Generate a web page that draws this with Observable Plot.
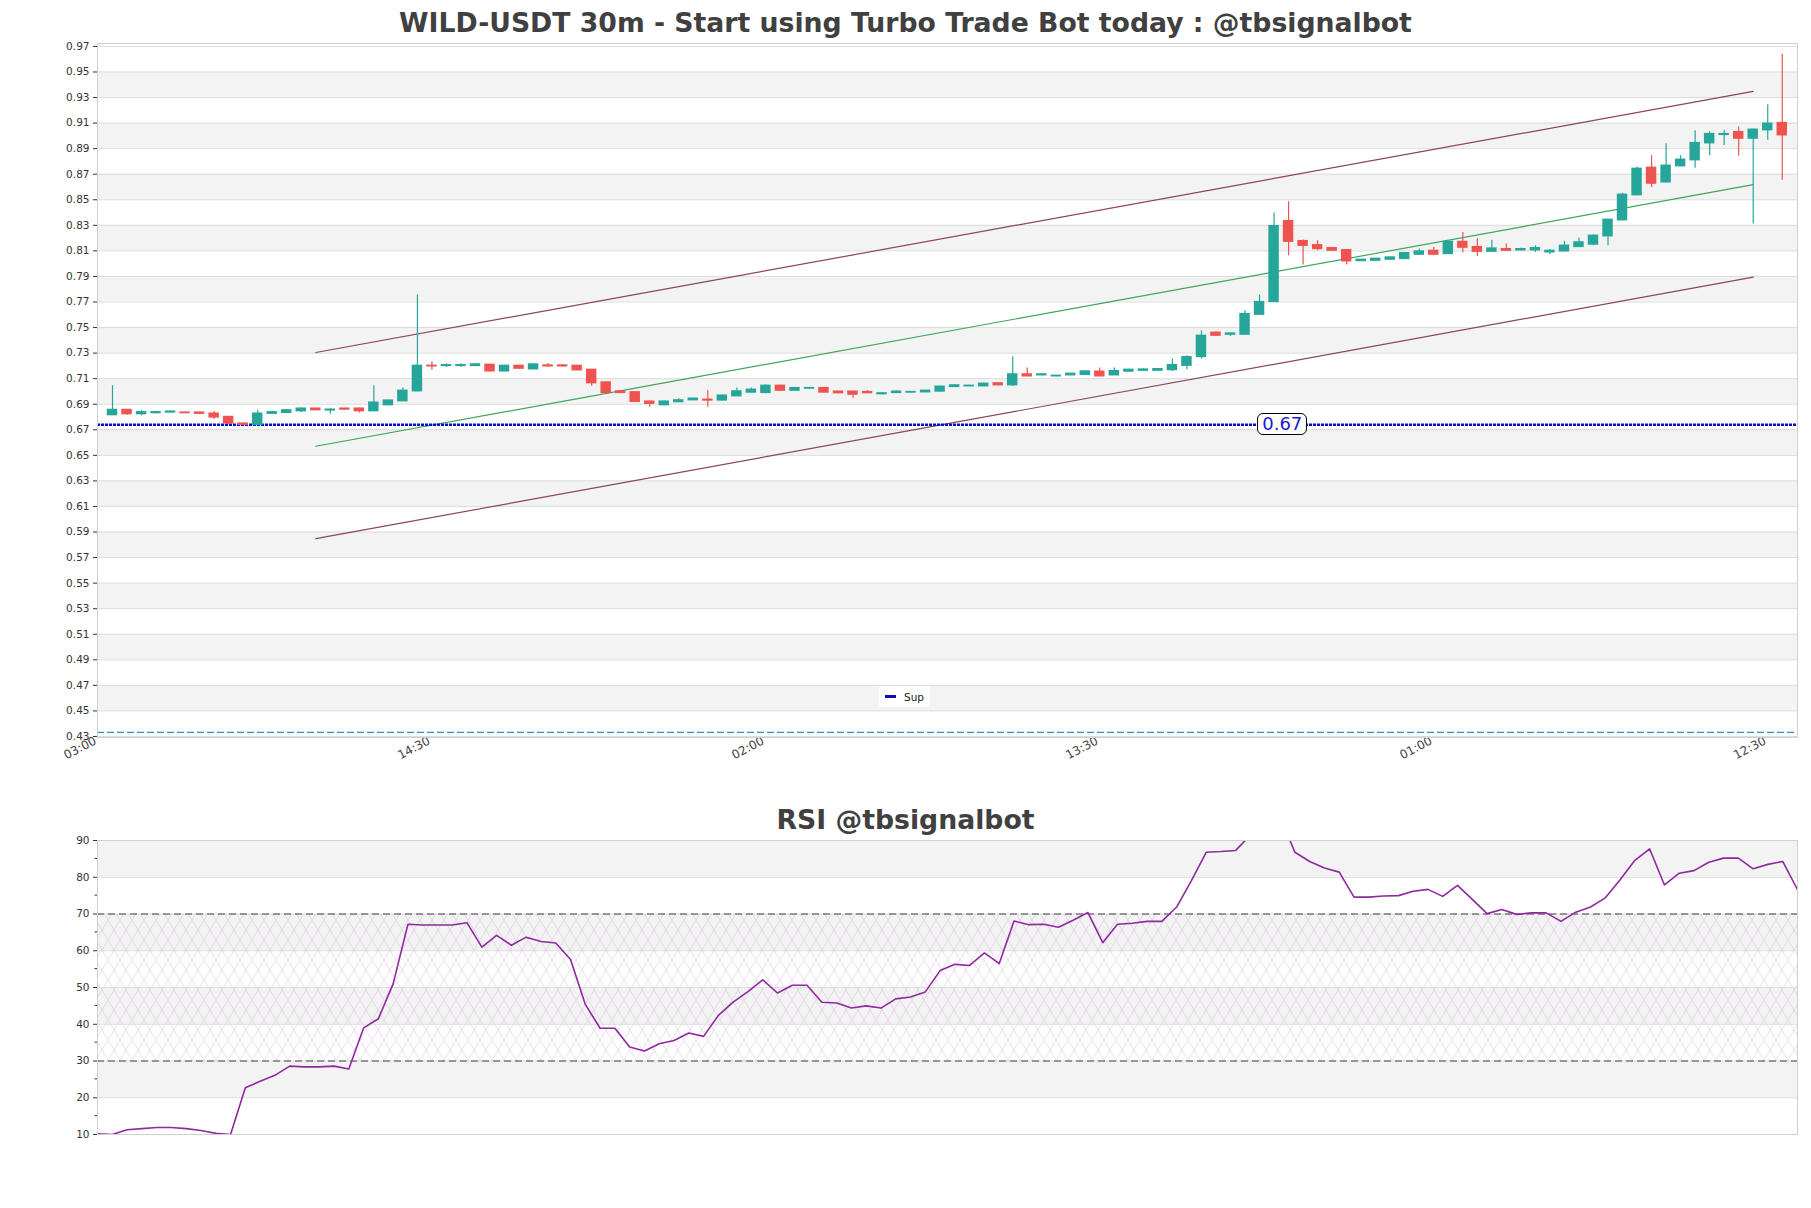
<!DOCTYPE html>
<html><head><meta charset="utf-8">
<script src="https://cdn.jsdelivr.net/npm/d3@7"></script>
<script src="https://cdn.jsdelivr.net/npm/@observablehq/plot@0.6"></script>
<style>
body{margin:0;background:#fff;font-family:"DejaVu Sans",sans-serif;}
#wrap{position:relative;width:1811px;height:1208px;overflow:hidden;background:#fff;}
.title{position:absolute;left:0;width:1811px;text-align:center;font-weight:bold;color:#404040;font-size:26.7px;line-height:30px;font-family:"DejaVu Sans",sans-serif;}
.abs{position:absolute;left:0;}
#legend{position:absolute;background:#fff;border-radius:2px;font-size:10.5px;color:#222;display:flex;align-items:center;padding:3px 6px;gap:8px;height:15px;}
#legend .sw{display:inline-block;width:11px;height:3px;background:#1010a8;}
#supLabel{position:absolute;background:#fff;border:1.2px solid #000;border-radius:6px;color:#1a1acc;font-size:18px;line-height:18px;padding:1px 4px;transform:translate(-50%,-50%);}
</style></head><body><div id="wrap"></div>
<script>
// ---- data ----
const openP=[.6814,.6856,.6822,.6830,.6835,.6835,.6835,.6827,.6801,.6749,
.6738,.6825,.6832,.6845,.6866,.6851,.6866,.6866,.6845,.6892,
.6923,.7001,.7201,.7199,.7199,.7199,.7209,.7157,.7201,.7173,
.7204,.7204,.7201,.7170,.7071,.7001,.6994,.6921,.6892,.6916,
.6931,.6936,.6929,.6962,.6991,.6988,.7045,.7006,.7022,.7027,
.6999,.6999,.6996,.6978,.6988,.6991,.6993,.6999,.7035,.7040,
.7040,.7064,.7048,.7134,.7126,.7118,.7126,.7129,.7155,.7126,
.7155,.7162,.7162,.7167,.7201,.7269,.7460,.7444,.7444,.7600,
.7700,.8333,.8177,.8145,.8122,.8106,.8020,.8023,.8031,.8036,
.8070,.8101,.8075,.8171,.8130,.8093,.8114,.8104,.8104,.8088,
.8096,.8130,.8149,.8214,.8339,.8535,.8751,.8636,.8762,.8809,
.8942,.9007,.9030,.8978,.9044,.9101];
const closeP=[.6856,.6822,.6838,.6838,.6843,.6830,.6825,.6796,.6749,.6738,
.6827,.6838,.6853,.6866,.6853,.6858,.6858,.6845,.6913,.6929,
.7006,.7201,.7196,.7206,.7206,.7212,.7157,.7201,.7178,.7212,
.7196,.7196,.7165,.7064,.6988,.6988,.6918,.6903,.6921,.6931,
.6944,.6929,.6968,.7001,.7014,.7045,.7006,.7027,.7027,.6991,
.6986,.6975,.6986,.6986,.6999,.6996,.7006,.7038,.7048,.7045,
.7061,.7048,.7134,.7118,.7134,.7123,.7139,.7157,.7118,.7160,
.7170,.7172,.7175,.7207,.7269,.7436,.7436,.7454,.7606,.7700,
.8294,.8171,.8140,.8114,.8101,.8018,.8031,.8039,.8049,.8083,
.8096,.8070,.8171,.8125,.8093,.8119,.8101,.8114,.8122,.8101,
.8141,.8167,.8219,.8344,.8540,.8743,.8626,.8767,.8814,.8944,
.9015,.9015,.8978,.9049,.9096,.9004];
const highP=[.7045,.6858,.6848,.6845,.6846,.6837,.6837,.6843,.6803,.6751,
.6851,.6846,.6858,.6870,.6868,.6864,.6868,.6870,.7045,.6932,
.7027,.7755,.7232,.7216,.7216,.7216,.7211,.7206,.7203,.7216,
.7219,.7209,.7203,.7172,.7073,.7003,.6996,.6923,.6926,.6942,
.6947,.7006,.6970,.7027,.7027,.7050,.7048,.7030,.7030,.7030,
.7001,.7001,.7006,.6988,.7004,.6999,.7009,.7040,.7053,.7048,
.7064,.7066,.7269,.7183,.7137,.7126,.7142,.7160,.7183,.7183,
.7173,.7175,.7178,.7254,.7280,.7475,.7468,.7456,.7632,.7755,
.8396,.8484,.8185,.8179,.8124,.8108,.8033,.8041,.8052,.8086,
.8114,.8127,.8177,.8244,.8196,.8183,.8153,.8120,.8140,.8110,
.8175,.8200,.8227,.8349,.8552,.8756,.8845,.8939,.8845,.9041,
.9033,.9044,.9070,.9054,.9244,.9636];
const lowP=[.6812,.6814,.6809,.6826,.6833,.6828,.6823,.6780,.6742,.6735,
.6735,.6822,.6830,.6836,.6851,.6822,.6855,.6832,.6843,.6890,
.6921,.6996,.7165,.7188,.7190,.7196,.7155,.7155,.7173,.7170,
.7191,.7193,.7162,.7040,.6986,.6986,.6916,.6877,.6890,.6914,
.6929,.6877,.6926,.6960,.6988,.6983,.7001,.7004,.7020,.6986,
.6983,.6947,.6983,.6975,.6986,.6988,.6991,.6996,.7032,.7038,
.7037,.7045,.7038,.7116,.7123,.7116,.7124,.7126,.7116,.7124,
.7152,.7160,.7158,.7155,.7170,.7253,.7434,.7431,.7442,.7598,
.7698,.8062,.7989,.8101,.8099,.7989,.8018,.8020,.8028,.8033,
.8067,.8062,.8072,.8083,.8057,.8090,.8098,.8101,.8088,.8070,
.8093,.8127,.8140,.8141,.8336,.8532,.8595,.8633,.8759,.8746,
.8845,.8924,.8840,.8310,.8965,.8652];
const rsiValues=[10.2,10.0,11.3,11.6,11.9,11.9,11.6,11.1,10.3,10.0,
22.7,24.5,26.1,28.6,28.4,28.4,28.6,27.8,39.0,41.5,
51.0,67.2,67.0,67.0,67.0,67.6,61.0,64.2,61.5,63.7,
62.5,62.1,57.6,45.4,38.9,38.9,33.8,32.7,34.7,35.6,
37.6,36.7,42.4,46.0,48.9,52.1,48.5,50.6,50.6,46.0,
45.8,44.4,45.0,44.4,46.9,47.4,48.8,54.6,56.3,56.0,
59.4,56.5,68.1,67.1,67.2,66.4,68.3,70.4,62.2,67.2,
67.5,68.0,68.0,71.9,79.1,86.8,87.0,87.3,91.5,95.0,
96.5,86.8,84.3,82.5,81.4,74.6,74.6,74.9,75.0,76.2,
76.7,74.8,77.8,74.0,70.1,71.2,69.9,70.3,70.3,68.0,
70.5,71.9,74.4,79.3,84.6,87.7,77.9,81.1,81.8,84.1,
85.2,85.2,82.3,83.5,84.3,76.6];
const xTickPos=[-1,22,45,68,91,114];
const xTickLabels=["03:00","14:30","02:00","13:30","01:00","12:30"];
const channelX=[14,113];
const channelUpper=[0.7305,0.9348];
const channelMid=[0.6571,0.8618];
const channelLower=[0.5848,0.7895];
const supLevel=0.674;
const supText="0.67";
const supLabelIndex=80.6;
const baseLevel=0.4332;
const mainTitle="WILD-USDT 30m - Start using Turbo Trade Bot today : @tbsignalbot";
const rsiTitle="RSI @tbsignalbot";
const legendLabel="Sup";
const yTicks=d3.range(0,28).map(k=>+(0.43+0.02*k).toFixed(2));
const rsiTicks=[10,20,30,40,50,60,70,80,90];
const rsiMinor=[15,25,35,45,55,65,75,85];

// ---- build ----
const wrap=document.getElementById("wrap");
const candles=openP.map((o,i)=>({i,open:o,close:closeP[i],high:highP[i],low:lowP[i],up:closeP[i]>=o}));
const GREEN="#26a69a", RED="#ef5350";
const bands=d3.range(0,yTicks.length-1).filter(k=>k%2===1).map(k=>({y1:yTicks[k],y2:yTicks[k+1]}));
const chX=(arr)=>channelX.map((x,j)=>({x,y:arr[j]}));
const fontStyle={fontFamily:"DejaVu Sans, sans-serif",fontSize:"10.5px",color:"#333",background:"transparent",overflow:"visible"};

const main=Plot.plot({
  width:1811,height:780,marginTop:43,marginBottom:43,marginLeft:97,marginRight:14,
  style:fontStyle,
  x:{domain:[-1.033,116.05],ticks:xTickPos,tickFormat:d=>xTickLabels[xTickPos.indexOf(d)],tickRotate:-28,tickSize:0,tickPadding:1,label:null},
  y:{domain:[0.4292,0.9723],ticks:yTicks,tickFormat:d3.format(".2f"),tickSize:4,tickPadding:4,label:null},
  marks:[
    Plot.rect(bands,{y1:"y1",y2:"y2",fill:"#f3f3f3"}),
    Plot.ruleY(yTicks,{stroke:"#dcdcdc",strokeWidth:1}),
    Plot.ruleY([baseLevel],{stroke:"#2a8fd0",strokeWidth:1.3,strokeDasharray:"7,3"}),
    Plot.line(chX(channelUpper),{x:"x",y:"y",stroke:"#8b4656",strokeWidth:1.2}),
    Plot.line(chX(channelLower),{x:"x",y:"y",stroke:"#8b4656",strokeWidth:1.2}),
    Plot.line(chX(channelMid),{x:"x",y:"y",stroke:"#3fa55b",strokeWidth:1.2}),
    Plot.ruleY([supLevel],{stroke:"#0010c8",strokeWidth:2.4,strokeDasharray:"3,1"}),
    Plot.ruleX(candles,{x:"i",y1:"low",y2:"high",stroke:d=>d.up?GREEN:RED,strokeWidth:1.2}),
    Plot.rect(candles,{x1:d=>d.i-0.36,x2:d=>d.i+0.36,y1:d=>Math.min(d.open,d.close),y2:d=>Math.max(d.open,d.close),fill:d=>d.up?GREEN:RED,insetTop:-0.6,insetBottom:-0.6}),
    Plot.frame({stroke:"#d0d0d0"})
  ]
});
main.classList.add("abs");main.style.top="0px";
d3.select(main).selectAll("g[aria-label='x-axis'] text, g[aria-label='x-axis tick label'] text")
  .attr("font-size","12px").attr("fill","#444")
  .each(function(){ const t=this.getAttribute("transform")||""; this.setAttribute("transform", t + " translate(-3,0)"); });
wrap.appendChild(main);

const t1=document.createElement("div");t1.className="title";t1.style.top="8px";t1.textContent=mainTitle;wrap.appendChild(t1);

const lbl=document.createElement("div");lbl.id="supLabel";lbl.textContent=supText;
lbl.style.left=main.scale("x").apply(supLabelIndex)+"px";
lbl.style.top=(main.scale("y").apply(supLevel))+"px";
wrap.appendChild(lbl);

const leg=document.createElement("div");leg.id="legend";
leg.innerHTML='<span class="sw"></span><span></span>';
leg.lastChild.textContent=legendLabel;
leg.style.left="879px";leg.style.top="686px";
wrap.appendChild(leg);

// RSI
const rsiBands=[[20,30],[40,50],[60,70],[80,90]].map(([a,b])=>({y1:a,y2:b}));
const rsiData=rsiValues.map((v,i)=>({i,v}));
const rsiChart=Plot.plot({
  width:1811,height:360,marginTop:40,marginBottom:26,marginLeft:97,marginRight:14,
  style:fontStyle,
  x:{domain:[0,rsiValues.length-1],axis:null},
  y:{domain:[10,90],ticks:rsiTicks,tickSize:4,tickPadding:4,label:null},
  marks:[
    Plot.rect(rsiBands,{y1:"y1",y2:"y2",fill:"#f3f3f3"}),
    Plot.rect([{y1:30,y2:70}],{y1:"y1",y2:"y2",fill:"url(#rsiHatch)"}),
    Plot.ruleY(rsiTicks,{stroke:"#dcdcdc"}),
    Plot.ruleY([30,70],{stroke:"#444",strokeWidth:1.2,strokeDasharray:"7,4"}),
    Plot.line(rsiData,{x:"i",y:"v",stroke:"#8e2a9e",strokeWidth:1.6,clip:true}),
    Plot.frame({stroke:"#d0d0d0"})
  ]
});
rsiChart.classList.add("abs");rsiChart.style.top="800px";
const defs=d3.select(rsiChart).insert("defs",":first-child");
const pat=defs.append("pattern").attr("id","rsiHatch").attr("patternUnits","userSpaceOnUse").attr("width",12).attr("height",20);
pat.append("path").attr("d","M0,0L12,20M12,0L0,20").attr("stroke","#c7a6d3").attr("stroke-width",0.6).attr("stroke-opacity",0.6).attr("fill","none");
const ry=rsiChart.scale("y");
d3.select(rsiChart).append("g").selectAll("line").data(rsiMinor).join("line")
  .attr("x1",97-2.5).attr("x2",97).attr("y1",d=>ry.apply(d)).attr("y2",d=>ry.apply(d)).attr("stroke","#333");
wrap.appendChild(rsiChart);

const t2=document.createElement("div");t2.className="title";t2.style.top="805px";t2.textContent=rsiTitle;wrap.appendChild(t2);
</script></body></html>
